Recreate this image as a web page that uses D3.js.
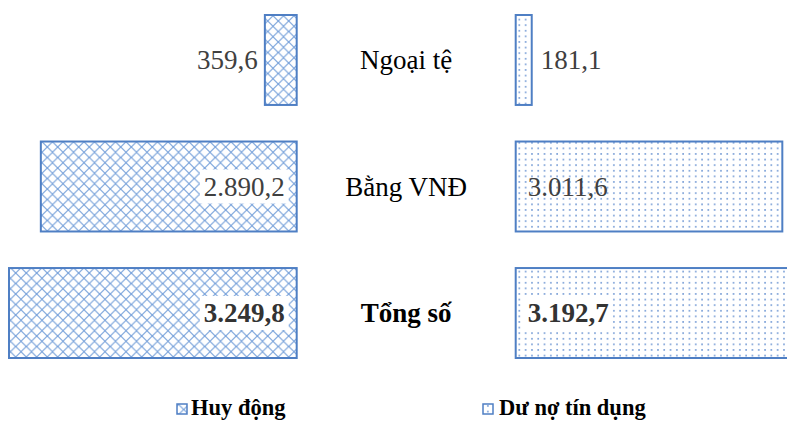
<!DOCTYPE html>
<html>
<head>
<meta charset="utf-8">
<script src="https://cdn.jsdelivr.net/npm/d3@7"></script>
<style>
  html, body { margin: 0; padding: 0; background: #fff; }
  svg { display: block; }
</style>
</head>
<body>
<script>
// Vốn huy động và dư nợ tín dụng (đơn vị: tỷ đồng)
const categories = ["Ngoại tệ", "Bằng VNĐ", "Tổng số"];
const huyDong = [359.6, 2890.2, 3249.8];
const duNo = [181.1, 3011.6, 3192.7];
const seriesNames = ["Huy động", "Dư nợ tín dụng"];

const W = 787, H = 421;
const serif = "'Liberation Serif', 'Times New Roman', Times, serif";
const blue = "#4F7FC4";

const fmt = d3.formatLocale({ decimal: ",", thousands: ".", grouping: [3], currency: ["", ""] }).format(",.1f");

const svg = d3.select("body").append("svg").attr("width", W).attr("height", H);

// Fill patterns: diamond lattice for "Huy động", dot grid for "Dư nợ tín dụng"
const defs = svg.append("defs");
const pDiamond = defs.append("pattern")
  .attr("id", "pat-diamond").attr("patternUnits", "userSpaceOnUse")
  .attr("width", 10.5).attr("height", 10.5);
pDiamond.append("rect").attr("width", 10.5).attr("height", 10.5).attr("fill", "#fff");
pDiamond.append("path")
  .attr("d", "M0,5.25 L5.25,0 L10.5,5.25 L5.25,10.5 Z")
  .attr("fill", "none").attr("stroke", "#5086d0").attr("stroke-width", 1)
  .attr("stroke-opacity", 0.9);

const pDots = defs.append("pattern")
  .attr("id", "pat-dots").attr("patternUnits", "userSpaceOnUse")
  .attr("width", 6.3).attr("height", 5.6);
pDots.append("rect").attr("width", 6.3).attr("height", 5.6).attr("fill", "#fff");
pDots.append("rect").attr("x", 2).attr("y", 2).attr("width", 1.5).attr("height", 1.5)
  .attr("fill", "#4a7cc8").attr("fill-opacity", 0.9);

const patterns = ["url(#pat-diamond)", "url(#pat-dots)"];

// Layout
const leftZero = 296.7, rightZero = 515.7;
const maxVal = d3.max(huyDong.concat(duNo));
const len = d3.scaleLinear().domain([0, maxVal]).range([0, 287.7]);
const y = d3.scaleBand().domain(categories).range([15, 358]).paddingInner(0.289).paddingOuter(0);

const rows = categories.map((c, i) => ({ cat: c, i, left: huyDong[i], right: duNo[i], bold: i === categories.length - 1 }));

// Bars
const gBars = svg.append("g");
gBars.selectAll("rect.left").data(rows).join("rect")
  .attr("class", "left")
  .attr("x", d => leftZero - len(d.left))
  .attr("y", d => y(d.cat))
  .attr("width", d => len(d.left))
  .attr("height", y.bandwidth())
  .attr("fill", patterns[0])
  .attr("stroke", blue).attr("stroke-width", 2);

gBars.selectAll("rect.right").data(rows).join("rect")
  .attr("class", "right")
  .attr("x", rightZero)
  .attr("y", d => y(d.cat))
  .attr("width", d => len(d.right))
  .attr("height", y.bandwidth())
  .attr("fill", patterns[1])
  .attr("stroke", blue).attr("stroke-width", 2);

// Category labels in the middle column
svg.append("g").selectAll("text").data(rows).join("text")
  .attr("x", (leftZero + rightZero) / 2)
  .attr("y", d => y(d.cat) + y.bandwidth() / 2 + 9)
  .attr("text-anchor", "middle")
  .attr("font-family", serif).attr("font-size", 27)
  .attr("font-weight", d => d.bold ? "bold" : "normal")
  .attr("fill", "#000")
  .text(d => d.cat);

// Value labels: outside short bars, inside long ones (some with a white backing box)
const noBox = new Set(["right-1"]);
const labels = [];
rows.forEach(d => {
  [["left", d.left], ["right", d.right]].forEach(([side, v]) => {
    const w = len(v);
    const inside = w > 120;
    let x;
    if (side === "left") {
      x = inside ? leftZero - 12 : leftZero - w - 7;
    } else {
      x = inside ? rightZero + 12 : rightZero + w + 9;
    }
    const anchor = side === "left" ? "end" : "start";
    labels.push({ side, v, x, anchor, inside, bold: d.bold, cy: y(d.cat) + y.bandwidth() / 2,
      box: inside && !noBox.has(side + "-" + d.i) });
  });
});

const gLab = svg.append("g");
const lab = gLab.selectAll("g").data(labels).join("g");
lab.each(function (d) {
  const g = d3.select(this);
  const t = g.append("text")
    .attr("x", d.x).attr("y", d.cy + 9)
    .attr("text-anchor", d.anchor)
    .attr("font-family", serif).attr("font-size", 27)
    .attr("font-weight", d.bold ? "bold" : "normal")
    .attr("fill", d.bold ? "#333" : "#404040")
    .text(fmt(d.v));
  if (d.box) {
    const bb = t.node().getBBox();
    g.insert("rect", "text")
      .attr("x", bb.x - 4).attr("y", d.cy - 17)
      .attr("width", bb.width + 8).attr("height", 34)
      .attr("fill", "#fff");
  }
});

// Legend
const legend = svg.append("g");
const legendItems = [
  { name: seriesNames[0], fill: patterns[0], sx: 177, tx: 191 },
  { name: seriesNames[1], fill: patterns[1], sx: 483, tx: 499 }
];
legendItems.forEach(it => {
  legend.append("rect")
    .attr("x", it.sx).attr("y", 404).attr("width", 10).attr("height", 10)
    .attr("fill", it.fill).attr("stroke", blue).attr("stroke-width", 1.5);
  legend.append("text")
    .attr("x", it.tx).attr("y", 415)
    .attr("font-family", serif).attr("font-size", 22.5).attr("font-weight", "bold")
    .attr("fill", "#000")
    .text(it.name);
});
</script>
</body>
</html>
